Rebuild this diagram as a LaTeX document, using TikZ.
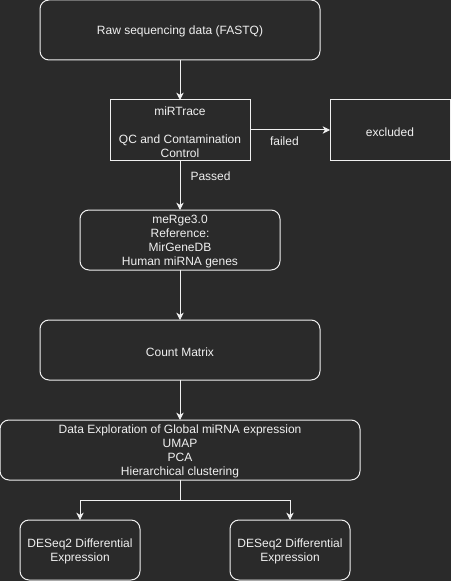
\documentclass[tikz,border=0pt]{standalone}
\usepackage{fontspec}
\setmainfont{Liberation Sans}
\usetikzlibrary{arrows.meta}
\definecolor{bgc}{HTML}{2A2A2A}
\definecolor{fgc}{HTML}{F0F0F0}
\begin{document}
\begin{tikzpicture}[x=0.75pt,y=-0.75pt,
  every node/.style={text=fgc,font=\fontsize{9pt}{10.5pt}\selectfont},
  txt/.style={inner sep=0pt,align=center,yshift=-1.3pt},
  box/.style={draw=fgc,line width=0.75pt,inner sep=0pt,outer sep=0pt,minimum height=45pt},
  rbox/.style={box,rounded corners=6.75pt},
  conn/.style={draw=fgc,line width=0.75pt,-{Stealth[length=5.5pt,width=5.5pt,inset=1.6pt]}},
  lbl/.style={inner sep=0pt}]
\fill[bgc] (0,0) rectangle (451,581);
\useasboundingbox (0,0) rectangle (451,581);
\node[rbox,minimum width=210pt,label={[txt]center:Raw sequencing data (FASTQ)}] (raw) at (180,30) {};
\node[box,minimum width=105pt,label={[txt]center:miRTrace\\[10.5pt]QC and Contamination\\Control}] (mirtrace) at (180,130) {};
\node[box,minimum width=90pt,label={[txt]center:excluded}] (excl) at (390,130) {};
\node[rbox,minimum width=150pt,label={[txt]center:meRge3.0\\Reference:\\MirGeneDB\\Human miRNA genes}] (merge) at (180,240) {};
\node[rbox,minimum width=210pt,label={[txt]center:Count Matrix}] (count) at (180,350) {};
\node[rbox,minimum width=270pt,label={[txt]center:Data Exploration of Global miRNA expression\\UMAP\\PCA\\Hierarchical clustering}] (data) at (180,450) {};
\node[rbox,minimum width=90pt,label={[txt]center:DESeq2 Differential\\Expression}] (d1) at (80,550) {};
\node[rbox,minimum width=90pt,label={[txt]center:DESeq2 Differential\\Expression}] (d2) at (290,550) {};
\coordinate (fork) at (180,500);
\draw[conn] (raw) -- (mirtrace);
\draw[conn] (mirtrace) -- node[lbl,pos=0.43,anchor=north,yshift=-5pt] {failed} (excl);
\draw[conn] (mirtrace) -- node[lbl,pos=0.32,anchor=west,xshift=7.5pt] {Passed} (merge);
\draw[conn] (merge) -- (count);
\draw[conn] (count) -- (data);
\draw[draw=fgc,line width=0.75pt] (data) -- (fork);
\draw[conn] (fork) -| (d1);
\draw[conn] (fork) -| (d2);
\end{tikzpicture}
\end{document}
